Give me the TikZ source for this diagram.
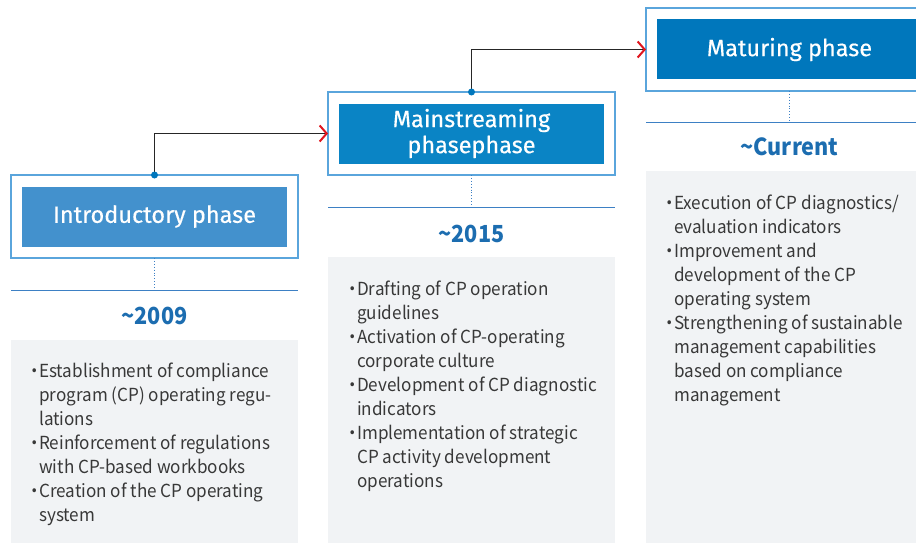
\documentclass[tikz,border=0pt]{standalone}
\usepackage{fontspec}
\usetikzlibrary{arrows.meta}
\newfontfamily\bodyfont{Noto Sans CJK KR}[FakeStretch=0.95]
\newfontfamily\yearfont{Noto Sans CJK KR}[FakeStretch=0.92]
\newfontfamily\titlefont{Fira Sans}[FakeBold=0.4]
\definecolor{frameblue}{HTML}{5AA5DC}
\definecolor{boxA}{HTML}{4391CD}
\definecolor{boxB}{HTML}{0A84C5}
\definecolor{boxC}{HTML}{0077BC}
\definecolor{lineblue}{HTML}{3D80C4}
\definecolor{yearblue}{HTML}{1C6DB0}
\definecolor{panelgrey}{HTML}{F1F3F5}
\definecolor{bodytext}{HTML}{383838}
\definecolor{tipred}{HTML}{E0161E}
\newcommand{\bul}{\makebox[11pt][l]{\hspace{1pt}\bfseries ·}}
\newcommand{\ind}{\hspace*{11pt}}
\begin{document}
\begin{tikzpicture}[x=1pt,y=-1pt,
  frame/.style={draw=frameblue, line width=1.2pt, fill=white, minimum width=287pt,
    minimum height=83pt, inner sep=0pt, outer sep=0pt},
  titlebox/.style={fill=#1, text=white, minimum width=265pt, minimum height=60pt,
    inner sep=0pt, align=center, font=\titlefont\fontsize{23.5}{26}\selectfont},
  panel/.style={fill=panelgrey, draw=none},
  sep/.style={draw=lineblue, line width=1pt},
  stem/.style={draw=lineblue, line width=0.9pt, dotted},
  year/.style={text=yearblue, font=\yearfont\bfseries\fontsize{23.5}{28}\selectfont},
  body/.style={text=bodytext, align=left, inner sep=0pt,
    font=\bodyfont\fontsize{18}{24}\selectfont},
  link/.style={draw=black!85, line width=1.1pt,
    -{Straight Barb[color=tipred, length=7pt, width=16pt, line width=2pt]}},
  dot/.style={circle, fill=boxC, inner sep=0pt, minimum size=7pt}
]
\useasboundingbox (0,0) rectangle (916,543);
\begin{scope}
\clip (0,0) rectangle (916,543);

% grey panels
\fill[panel] (11,340) rectangle (298,543);
\fill[panel] (328,257) rectangle (615,543);
\fill[panel] (646,171) rectangle (933,543);

% phase frames and title boxes
\node[frame] (f1) at (154.5,216.5) {};
\node[titlebox=boxA] (p1) at (f1) {Introductory phase};
\node[frame] (f2) at (471.5,133.5) {};
\node[titlebox=boxB] (p2) at (f2) {Mainstreaming\\phasephase};
\node[frame] (f3) at (789.5,49.5) {};
\node[titlebox=boxC] (p3) at (f3) {Maturing phase};

% separators under the frames
\coordinate (s1) at (154.5,290);
\coordinate (s2) at (471.5,207);
\coordinate (s3) at (789.5,122);
\draw[sep] (11,290) -- (298,290);
\draw[sep] (328,207) -- (615,207);
\draw[sep] (646,122) -- (933,122);
\draw[stem] (f1.south) -- (s1);
\draw[stem] (f2.south) -- (s2);
\draw[stem] (f3.south) -- (s3);

% years
\node[year] (y1) at (154.5,316) {\textasciitilde2009};
\node[year] (y2) at (471.5,234) {\textasciitilde2015};
\node[year] (y3) at (789.5,147) {\textasciitilde Current};

% connectors between phases
\draw[link] (f1.north) |- (f2.west);
\draw[link] (f2.north) |- (f3.west);
\node[dot] at (f1.north) {};
\node[dot] at (f2.north) {};

% item lists
\node[body, anchor=north west] (l1) at (28,363) {%
\bul Establishment of compliance\\
\ind program (CP) operating regu-\\
\ind lations\\
\bul Reinforcement of regulations\\
\ind with CP-based workbooks\\
\bul Creation of the CP operating\\
\ind system};
\node[body, anchor=north west] (l2) at (346,281) {%
\bul Drafting of CP operation\\
\ind guidelines\\
\bul Activation of CP-operating\\
\ind corporate culture\\
\bul Development of CP diagnostic\\
\ind indicators\\
\bul Implementation of strategic\\
\ind CP activity development\\
\ind operations};
\node[body, anchor=north west] (l3) at (663,195) {%
\bul Execution of CP diagnostics/\\
\ind evaluation indicators\\
\bul Improvement and\\
\ind development of the CP\\
\ind operating system\\
\bul Strengthening of sustainable\\
\ind management capabilities\\
\ind based on compliance\\
\ind management};
\end{scope}
\end{tikzpicture}
\end{document}
